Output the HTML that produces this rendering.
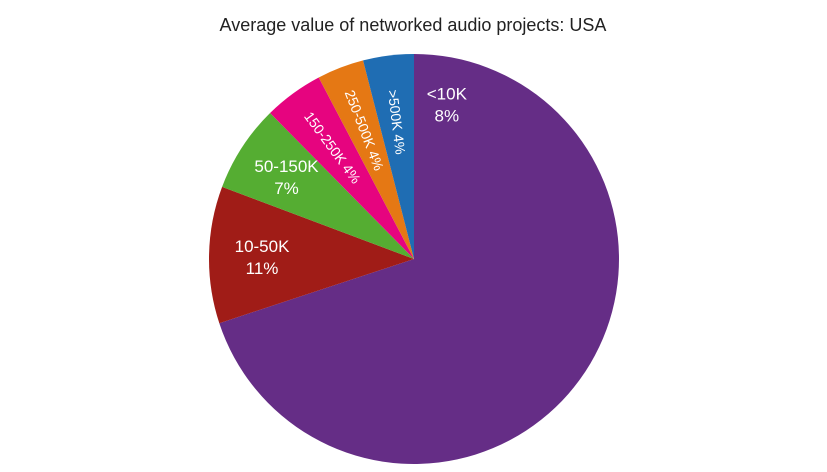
<!DOCTYPE html>
<html><head><meta charset="utf-8"><style>
html,body{margin:0;padding:0;background:#fff;}
svg{display:block;font-family:"Liberation Sans Narrow","Liberation Sans",sans-serif;}
</style></head><body>
<svg id="chart" width="827" height="472">
<text x="413" y="31" text-anchor="middle" font-size="18" fill="#222">Average value of networked audio projects: USA</text>
<g id="slices"></g><g id="labels"></g>
</svg>
<script>
const categories = ["<10K","10-50K","50-150K","150-250K","250-500K",">500K"];
const values = [70, 10.8, 6.9, 4.7, 3.7, 4.0];
const pctLabels = ["8%","11%","7%","4%","4%","4%"];
const colors = ["#652d86","#a01c17","#55ad32","#e6047f","#e57814","#1f6db3"];
const cx=414, cy=259, R=205;
const ns="http://www.w3.org/2000/svg";
const total=values.reduce((a,b)=>a+b,0);
function pt(deg,r){const a=deg*Math.PI/180;return [cx+r*Math.sin(a), cy-r*Math.cos(a)];}
let start=0;
const sg=document.getElementById('slices'), lg=document.getElementById('labels');
values.forEach((v,i)=>{
  const sweep=v/total*360, end=start+sweep;
  const [x1,y1]=pt(start,R),[x2,y2]=pt(end,R);
  const p=document.createElementNS(ns,'path');
  p.setAttribute('d',`M${cx},${cy}L${x1},${y1}A${R},${R} 0 ${sweep>180?1:0} 1 ${x2},${y2}Z`);
  p.setAttribute('fill',colors[i]);
  
  
  sg.appendChild(p);
  const t=document.createElementNS(ns,'text');
  t.setAttribute('fill','#fff');t.setAttribute('font-size','17');t.setAttribute('text-anchor','middle');
  
  
  if(i===0){
    const [lx,ly]=pt(start+12,158);
    t.innerHTML=`<tspan x="${lx}" y="${ly-5}">${categories[i].replace('<','&lt;')}</tspan><tspan x="${lx}" y="${ly+17}">${pctLabels[i]}</tspan>`;
  } else if(sweep>20){
    const [lx,ly]=pt(start+sweep/2,152);
    t.innerHTML=`<tspan x="${lx}" y="${ly-4}">${categories[i]}</tspan><tspan x="${lx}" y="${ly+18}">${pctLabels[i]}</tspan>`;
  } else {
    const mid=start+sweep/2;
    const [lx,ly]=pt(mid,138);
    const a=mid*Math.PI/180;
    const rot=Math.atan2(Math.cos(a),-Math.sin(a))*180/Math.PI;
    t.setAttribute('font-size','14');
    t.setAttribute('transform',`translate(${lx},${ly}) rotate(${rot})`);
    t.setAttribute('y','5');
    t.textContent=categories[i]+' '+pctLabels[i];
  }
  lg.appendChild(t);
  start=end;
});
</script>
</body></html>
